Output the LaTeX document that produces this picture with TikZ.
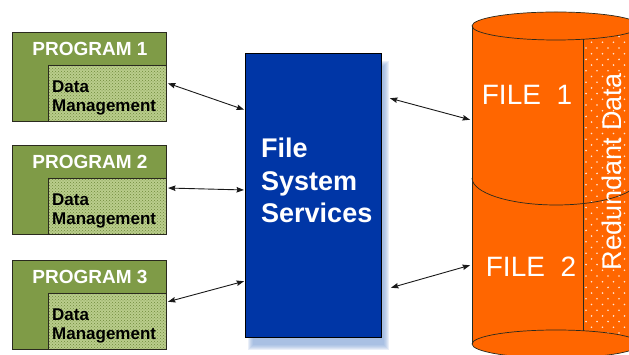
\documentclass[tikz,border=0pt]{standalone}
\usepackage{fontspec}
\setmainfont{Liberation Sans}
\usetikzlibrary{patterns,arrows.meta}

\definecolor{proggreen}{HTML}{7F9B47}
\definecolor{dmgreen}{HTML}{BACD8C}
\definecolor{dmhatch}{HTML}{6F8B3B}
\definecolor{fsblue}{HTML}{0036A6}
\definecolor{fsshadow}{HTML}{7A9ED4}
\definecolor{fileorange}{HTML}{FF6600}
\definecolor{edgedark}{HTML}{2A2A1E}
\definecolor{dotlight}{HTML}{FFE6D6}

\begin{document}
\begin{tikzpicture}[x=1pt,y=1pt,
  progbox/.style={draw=edgedark, line width=0.7pt, fill=proggreen,
    minimum width=154pt, minimum height=89pt, inner sep=0pt, outer sep=0pt,
    anchor=north west},
  dmbox/.style={draw=edgedark, line width=0.7pt,
    preaction={fill=dmgreen}, pattern=crosshatch dots, pattern color=dmhatch,
    minimum width=118pt, minimum height=56pt, inner sep=0pt, outer sep=0pt,
    anchor=south east},
  progtitle/.style={text=white, font=\bfseries\fontsize{19}{21}\selectfont,
    inner sep=0pt},
  dmtext/.style={text=black, font=\bfseries\fontsize{17}{19}\selectfont,
    inner sep=0pt, anchor=base west},
  fsbox/.style={draw=black, line width=0.6pt, fill=fsblue,
    minimum width=136pt, minimum height=284pt, inner sep=0pt, outer sep=0pt},
  fstext/.style={text=white, font=\bfseries\fontsize{27}{30}\selectfont,
    inner sep=0pt, anchor=base west},
  filetext/.style={text=white, font=\fontsize{28}{32}\selectfont,
    inner sep=0pt, anchor=base},
  cylline/.style={draw=edgedark, line width=0.7pt},
  conn/.style={draw=black!90, line width=0.9pt,
    {Stealth[length=7.5pt,width=5.5pt,inset=1pt]}-{Stealth[length=7.5pt,width=5.5pt,inset=1pt]},
    shorten <=1pt, shorten >=1pt}
]
\useasboundingbox (0,0) rectangle (629,355);
\clip (0,0) rectangle (629,355);

% ---------- programs with their data management parts ----------
\foreach \i/\top in {1/323, 2/210, 3/95} {
  \node[progbox] (p\i) at (12,\top) {};
  \node[dmbox] (d\i) at (p\i.south east) {};
  \node[progtitle] (pt\i) at ([xshift=1pt,yshift=-17pt]p\i.north) {PROGRAM \i};
  \node[dmtext] (dta\i) at ([xshift=4pt,yshift=-27.5pt]d\i.north west) {Data};
  \node[dmtext] (dtb\i) at ([xshift=4pt,yshift=-47pt]d\i.north west) {Management};
}

% ---------- file system services block with soft shadow ----------
\foreach \r in {0,1,2,3,4,5} {
  \fill[fsshadow, opacity=0.16]
    ({253-\r},{10-\r}) rectangle ({389-5+\r},{294-5+\r});
}
\node[fsbox] (fs) at (313,160) {};
\node[fstext] (fsa) at (261,197) {File};
\node[fstext] (fsb) at (261,164) {System};
\node[fstext] (fsc) at (261,132) {Services};

% ---------- file cylinder ----------
\fill[fileorange] (472,329) -- (472,11)
  arc[start angle=180, end angle=360, x radius=84pt, y radius=14pt]
  -- (640,329) -- cycle;
\fill[fileorange] (556,329) ellipse [x radius=84pt, y radius=14pt];

% dotted strip for the redundant part
\begin{scope}
  \clip (583,315.7)
    arc[start angle=288.7, end angle=360, x radius=84pt, y radius=14pt]
    -- (640,11)
    arc[start angle=0, end angle=71.3, x radius=84pt, y radius=14pt]
    -- cycle;
  \foreach \yy in {0,...,54} {
    \foreach \xx in {0,...,5} {
      \fill[dotlight] ({586+11*\xx+5.5*mod(\yy,2)},{22+5.7*\yy}) circle (0.9pt);
    }
  }
\end{scope}

\draw[cylline] (556,329) ellipse [x radius=84pt, y radius=14pt];
\draw[cylline] (472,329) -- (472,11);
\draw[cylline] (472,177)
  arc[start angle=180, end angle=360, x radius=84pt, y radius=27pt];
\draw[cylline] (556,11) ellipse [x radius=84pt, y radius=14pt];
\draw[cylline] (583,315.7) -- (583,24.3);

\node[filetext] (f1) at (527,250) {FILE~~1};
\node[filetext] (f2) at (531,78) {FILE~~2};
\node[text=white, font=\fontsize{27}{30}\selectfont, inner sep=0pt,
  anchor=base, rotate=90] (rd) at (621,183) {Redundant Data};

\coordinate (c1) at (471,235);
\coordinate (c2) at (471,90);

% ---------- connectors ----------
\draw[conn] ([xshift=1pt,yshift=10pt]d1.east) -- ([yshift=85pt]fs.west);
\draw[conn] ([xshift=1pt,yshift=18pt]d2.east) -- ([yshift=5pt]fs.west);
\draw[conn] ([xshift=1pt,yshift=19pt]d3.east) -- ([yshift=-86pt]fs.west);
\draw[conn] ([xshift=8pt,yshift=97pt]fs.east) -- (c1);
\draw[conn] ([xshift=9pt,yshift=-93pt]fs.east) -- (c2);
\end{tikzpicture}
\end{document}
